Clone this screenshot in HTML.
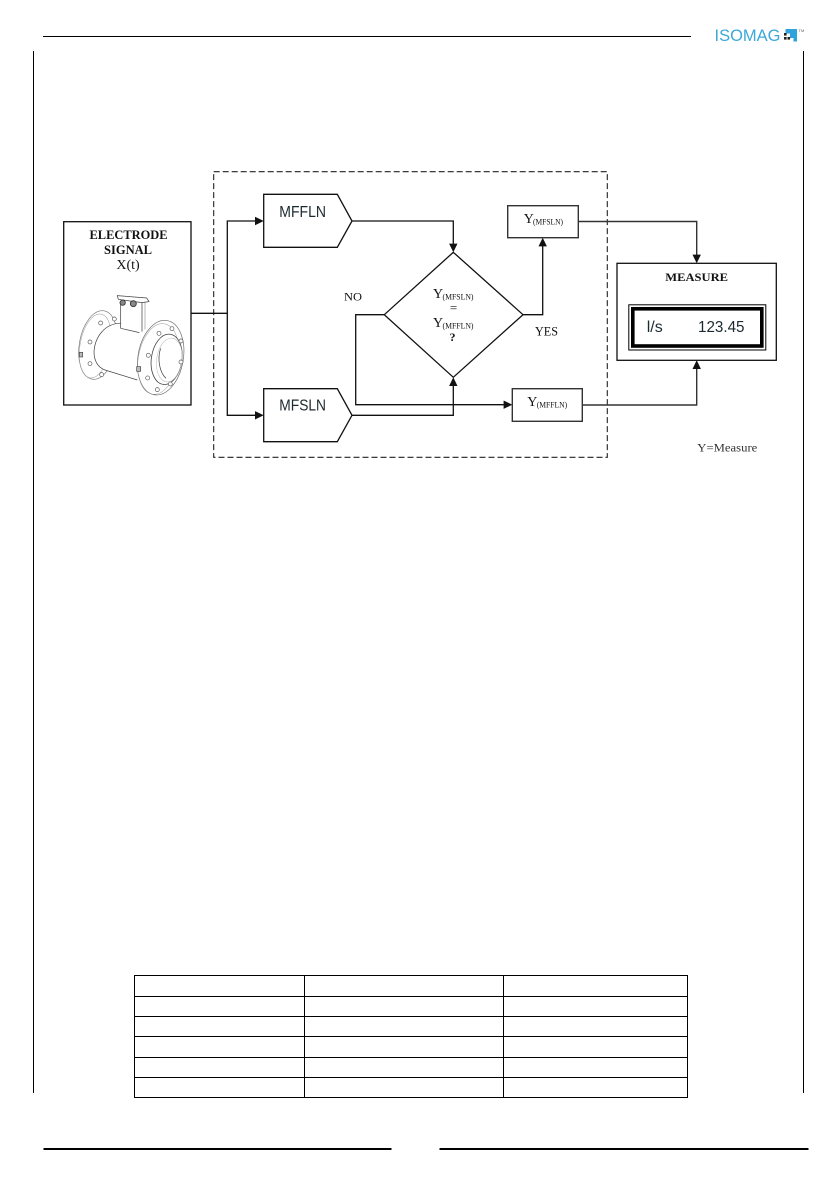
<!DOCTYPE html>
<html>
<head>
<meta charset="utf-8">
<style>
html,body{margin:0;padding:0;background:#fff;}
svg{display:block;}
text{font-family:"Liberation Serif",serif;fill:#111;}
.s{font-family:"Liberation Sans",sans-serif;fill:#1c2a30;}
.l{fill:none;stroke:#111;stroke-width:1.3;}
.m{fill:none;stroke:#444;stroke-width:2.2;}
.n{fill:none;stroke:#777;stroke-width:1.6;}
</style>
</head>
<body>
<svg width="838" height="1190" viewBox="0 0 838 1190" xmlns="http://www.w3.org/2000/svg">
<defs><filter id="b" x="-5%" y="-5%" width="110%" height="110%"><feGaussianBlur stdDeviation="0.3"/></filter></defs>
<rect width="838" height="1190" fill="#fff"/>

<!-- page frame -->
<g stroke="#000" stroke-width="1" fill="none">
<path d="M43 36.5H691"/>
<path d="M33.5 51V1093"/>
<path d="M803.5 51V1093"/>
</g>
<g fill="#000">
<rect x="43.5" y="1148" width="348" height="2"/>
<rect x="439.5" y="1148" width="369" height="2"/>
</g>

<!-- logo -->
<text class="s" x="714.5" y="41" font-size="16.5" textLength="66" lengthAdjust="spacingAndGlyphs" style="fill:#3ba8d9">ISOMAG</text>
<path d="M785.5 29H797V41.5H793.5V38H790V33.5H785.5Z" fill="#2fa3dc"/>
<rect x="784" y="33" width="2.6" height="2.6" fill="#222"/>
<rect x="784" y="37" width="2.6" height="2.6" fill="#222"/>
<rect x="787.5" y="37" width="2.6" height="2.6" fill="#222"/>
<text class="s" x="798.5" y="32" font-size="4" style="fill:#666">TM</text>

<!-- dashed region -->
<rect x="213.7" y="171.7" width="393.6" height="285.6" fill="none" stroke="#222" stroke-width="1.1" stroke-dasharray="6 3"/>

<!-- electrode box -->
<rect x="63.7" y="221.7" width="127.3" height="183.3" fill="#fff" stroke="#111" stroke-width="1.3"/>
<text x="128.5" y="239" font-size="12.5" font-weight="bold" text-anchor="middle" textLength="78" lengthAdjust="spacingAndGlyphs">ELECTRODE</text>
<text x="128" y="254" font-size="12.5" font-weight="bold" text-anchor="middle" textLength="48" lengthAdjust="spacingAndGlyphs">SIGNAL</text>
<text x="128" y="269" font-size="14" text-anchor="middle">X(t)</text>

<!-- flowmeter -->
<g transform="translate(50,160) scale(0.3333)" filter="url(#b)">
<ellipse cx="144" cy="555" rx="56" ry="104" transform="rotate(10 144 555)" fill="#fff" stroke="#777" stroke-width="2"/>
<ellipse cx="136" cy="558" rx="46" ry="97" transform="rotate(10 136 558)" fill="none" stroke="#999" stroke-width="1.5"/>
<path d="M212 490C165 490 135 530 132 575C132 600 142 622 165 630L262 660L290 520L212 505Z" fill="#fff" stroke="none"/>
<path class="m" d="M212 490C165 490 135 530 132 575C132 600 142 622 165 630L262 660"/>
<path class="m" d="M212 505L268 518"/>
<path class="m" d="M212 432V505M276 428V515"/>
<path class="n" d="M285 425V508"/>
<path class="m" d="M202 407L290 414L297 425L276 428L205 418Z"/>
<circle cx="218" cy="428" r="8" fill="#888" stroke="#333" stroke-width="2.5"/>
<circle cx="250" cy="431" r="9" fill="#888" stroke="#333" stroke-width="2.5"/>
<ellipse cx="332" cy="593" rx="68" ry="113" transform="rotate(10 332 593)" fill="#fff" stroke="#666" stroke-width="2"/>
<ellipse cx="325" cy="597" rx="60" ry="107" transform="rotate(10 325 597)" fill="none" stroke="#999" stroke-width="1.4"/>
<ellipse cx="350" cy="598" rx="46" ry="76" transform="rotate(8 350 598)" fill="#fff" stroke="#444" stroke-width="2.4"/>
<ellipse cx="358" cy="600" rx="38" ry="66" transform="rotate(8 358 600)" fill="none" stroke="#bbb" stroke-width="1.6"/>
<path class="m" d="M332 565C322 595 327 635 348 655"/>
<g fill="#fff" stroke="#555" stroke-width="2">
<circle cx="327" cy="520" r="6"/><circle cx="366" cy="506" r="6"/><circle cx="393" cy="543" r="6"/>
<circle cx="393" cy="606" r="6"/><circle cx="361" cy="672" r="6"/><circle cx="322" cy="689" r="6"/>
<circle cx="293" cy="654" r="6"/><circle cx="295" cy="586" r="6"/>
<circle cx="152" cy="489" r="6"/><circle cx="193" cy="477" r="6"/><circle cx="120" cy="546" r="6"/>
<circle cx="120" cy="611" r="6"/><circle cx="155" cy="644" r="6"/>
</g>
<rect x="88" y="577" width="10" height="14" fill="#bbb" stroke="#444" stroke-width="2"/>
<rect x="260" y="620" width="12" height="14" fill="#bbb" stroke="#444" stroke-width="2"/>
</g>

<!-- block shapes -->
<path d="M263.7 194.3H337.3L352 221L337.3 247.3H263.7Z" fill="#fff" stroke="#111" stroke-width="1.3"/>
<path d="M263.7 388.7H337.3L352 415.3L337.3 441.7H263.7Z" fill="#fff" stroke="#111" stroke-width="1.3"/>
<text class="s" x="279.3" y="217" font-size="16" textLength="46.7" lengthAdjust="spacingAndGlyphs">MFFLN</text>
<text class="s" x="279.3" y="410.7" font-size="16" textLength="46.7" lengthAdjust="spacingAndGlyphs">MFSLN</text>

<path d="M453.3 252.3L523 314.7L453.3 377.3L384.3 314.7Z" fill="#fff" stroke="#111" stroke-width="1.3"/>

<rect x="507.7" y="205.7" width="70.6" height="32" fill="#fff" stroke="#333" stroke-width="1.4"/>
<rect x="512.3" y="388.7" width="70" height="32.6" fill="#fff" stroke="#333" stroke-width="1.4"/>

<!-- connectors -->
<path class="l" d="M191 313.3H227.3"/>
<path class="l" d="M255 221H227.3V415.3H255"/>
<path class="l" d="M352 221H453.3V245"/>
<path class="l" d="M352 415.3H453.3V385"/>
<path class="l" d="M384.3 314.7H355.7V404.7H505"/>
<path class="l" d="M523 314.7H542.7V246"/>
<path d="M578.3 221.5H696.7V256" fill="none" stroke="#333" stroke-width="1.4"/>
<path d="M582.3 405H696.7V368" fill="none" stroke="#333" stroke-width="1.4"/>

<!-- arrowheads -->
<g fill="#111">
<path d="M263.7 221L255 216.8V225.2Z"/>
<path d="M263.7 415.3L255 411.1V419.5Z"/>
<path d="M453.3 252.3L449.1 243.6H457.5Z"/>
<path d="M453.3 377.3L449.1 386H457.5Z"/>
<path d="M512.3 404.7L503.6 400.5V408.9Z"/>
<path d="M542.7 237.7L538.5 246.4H546.9Z"/>
<path d="M696.7 263.3L692.5 254.6H700.9Z"/>
<path d="M696.7 360.3L692.5 369H700.9Z"/>
</g>

<!-- labels -->
<text x="344" y="300.7" font-size="12" textLength="18" lengthAdjust="spacingAndGlyphs">NO</text>
<text x="535" y="335.7" font-size="12.5" textLength="23" lengthAdjust="spacingAndGlyphs">YES</text>

<text x="433" y="298" font-size="14">Y</text>
<text x="442.5" y="299.5" font-size="8" textLength="31" lengthAdjust="spacingAndGlyphs">(MFSLN)</text>
<text x="453.5" y="312" font-size="13" text-anchor="middle">=</text>
<text x="433" y="327" font-size="14">Y</text>
<text x="442.5" y="328.5" font-size="8" textLength="31" lengthAdjust="spacingAndGlyphs">(MFFLN)</text>
<text x="452.5" y="341" font-size="12" font-weight="bold" text-anchor="middle">?</text>

<text x="523.7" y="223" font-size="14">Y</text>
<text x="533" y="224.5" font-size="8" textLength="30" lengthAdjust="spacingAndGlyphs">(MFSLN)</text>
<text x="527.3" y="406" font-size="14">Y</text>
<text x="536.7" y="407.5" font-size="8" textLength="30.5" lengthAdjust="spacingAndGlyphs">(MFFLN)</text>

<!-- measure -->
<rect x="617" y="263.3" width="159.3" height="97" fill="#fff" stroke="#111" stroke-width="1.3"/>
<text x="665.3" y="281" font-size="11.5" font-weight="bold" textLength="62.7" lengthAdjust="spacingAndGlyphs">MEASURE</text>
<rect x="628.8" y="304.8" width="137" height="45.2" fill="#fff" stroke="#000" stroke-width="1"/>
<rect x="632.8" y="308.8" width="129" height="37.2" fill="#fff" stroke="#000" stroke-width="3.6"/>
<text class="s" x="646.7" y="332" font-size="16" textLength="16" lengthAdjust="spacingAndGlyphs">l/s</text>
<text class="s" x="698" y="332" font-size="16" textLength="46.5" lengthAdjust="spacingAndGlyphs">123.45</text>

<text x="697.3" y="451.7" font-size="12" textLength="60" lengthAdjust="spacingAndGlyphs" style="fill:#333">Y=Measure</text>

<!-- table -->
<g stroke="#000" stroke-width="1" fill="none">
<rect x="134.5" y="975.5" width="553" height="122"/>
<path d="M134.5 996.5H687.5M134.5 1016.5H687.5M134.5 1036.5H687.5M134.5 1057.5H687.5M134.5 1077.5H687.5"/>
<path d="M304.5 975.5V1097.5M503.5 975.5V1097.5"/>
</g>
</svg>
</body>
</html>
